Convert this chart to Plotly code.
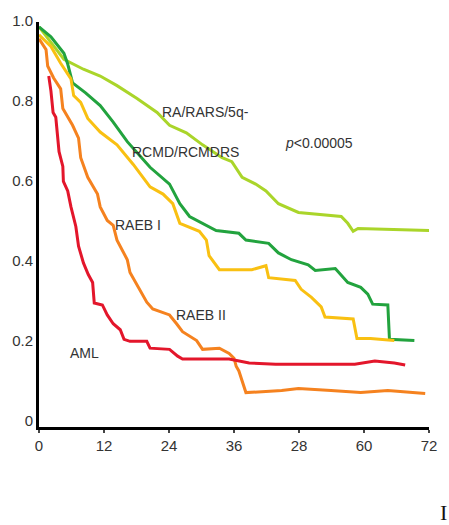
import plotly.graph_objects as go

# ---- data (months, survival proportion) ----
ra_x = [0, 2.2, 4.6, 8.2, 11.3, 14.4, 18.1, 21.8, 23.6, 24.1, 27.2, 30.2, 33.8, 35.6, 37.5, 40.0, 41.9, 44.2, 47.9, 55.8, 57.0, 58.0, 58.9, 72.2]
ra_y = [1.0, 0.96, 0.919, 0.894, 0.877, 0.853, 0.821, 0.786, 0.762, 0.754, 0.735, 0.705, 0.673, 0.663, 0.624, 0.607, 0.590, 0.558, 0.536, 0.526, 0.509, 0.489, 0.496, 0.491]

rcmd_x = [0, 2.2, 4.6, 5.3, 6.2, 8.6, 11.3, 13.7, 16.3, 20.5, 24.1, 26.0, 27.8, 30.2, 32.7, 36.9, 38.2, 42.4, 44.2, 46.6, 49.7, 51.0, 54.7, 57.0, 59.4, 60.7, 61.6, 64.4, 64.7, 69.3]
rcmd_y = [1.0, 0.975, 0.934, 0.907, 0.860, 0.835, 0.803, 0.762, 0.713, 0.649, 0.607, 0.558, 0.526, 0.509, 0.491, 0.484, 0.467, 0.459, 0.435, 0.418, 0.405, 0.391, 0.396, 0.361, 0.349, 0.332, 0.307, 0.305, 0.219, 0.216]

raeb1_x = [0, 2.2, 4.0, 5.9, 6.4, 7.7, 9.0, 11.3, 14.4, 17.4, 20.5, 22.9, 24.7, 26.0, 29.6, 30.9, 31.4, 33.3, 39.3, 41.9, 42.4, 47.3, 48.4, 50.3, 52.1, 52.8, 58.0, 58.7, 61.2, 65.6]
raeb1_y = [0.98, 0.951, 0.909, 0.870, 0.828, 0.811, 0.771, 0.737, 0.705, 0.656, 0.600, 0.582, 0.558, 0.509, 0.489, 0.467, 0.428, 0.393, 0.393, 0.403, 0.373, 0.366, 0.344, 0.324, 0.300, 0.275, 0.270, 0.221, 0.221, 0.216]

raeb2_x = [0, 1.3, 1.6, 2.7, 4.0, 4.4, 6.2, 7.3, 7.7, 9.0, 10.8, 11.3, 12.6, 13.7, 14.4, 16.3, 16.8, 18.1, 19.9, 21.0, 24.1, 25.4, 26.5, 29.1, 30.2, 33.3, 35.1, 36.0, 36.4, 36.9, 37.5, 38.2, 44.8, 47.9, 53.9, 59.4, 64.4, 71.3]
raeb2_y = [0.97, 0.943, 0.902, 0.872, 0.845, 0.796, 0.754, 0.722, 0.673, 0.624, 0.582, 0.550, 0.516, 0.504, 0.467, 0.418, 0.386, 0.354, 0.312, 0.295, 0.280, 0.258, 0.238, 0.216, 0.194, 0.197, 0.184, 0.172, 0.152, 0.140, 0.115, 0.086, 0.091, 0.096, 0.091, 0.086, 0.091, 0.084]

aml_x = [1.8, 2.2, 2.6, 3.1, 3.7, 4.4, 4.5, 5.3, 5.9, 6.2, 6.8, 7.3, 8.2, 9.1, 9.9, 10.2, 11.7, 12.6, 13.7, 15.0, 15.7, 16.8, 19.9, 20.5, 24.1, 25.6, 26.5, 31.4, 35.1, 38.8, 43.7, 51.0, 58.3, 62.0, 65.6, 67.6]
aml_y = [0.877, 0.840, 0.786, 0.774, 0.688, 0.651, 0.614, 0.590, 0.550, 0.533, 0.501, 0.452, 0.410, 0.381, 0.361, 0.310, 0.305, 0.280, 0.258, 0.243, 0.219, 0.214, 0.214, 0.197, 0.194, 0.177, 0.170, 0.170, 0.170, 0.160, 0.157, 0.157, 0.157, 0.165, 0.160, 0.155]

x_tickvals = [0, 12, 24, 36, 48, 60, 72]
x_ticktext = ["0", "12", "24", "36", "28", "60", "72"]
y_tickvals = [0, 0.2, 0.4, 0.6, 0.8, 1.0]
y_ticktext = ["0", "0.2", "0.4", "0.6", "0.8", "1.0"]

labels = ["RA/RARS/5q-", "RCMD/RCMDRS", "<i>p</i>&lt;0.00005", "RAEB I", "RAEB II", "AML"]
label_x = [22.3, 16.8, 45.1, 13.7, 25.0, 5.3]
label_y = [0.786, 0.688, 0.710, 0.504, 0.280, 0.184]

FONT = "Liberation Sans, Arial, sans-serif"

fig = go.Figure()
series = [
    (ra_x, ra_y, "#aad52a"),
    (rcmd_x, rcmd_y, "#22a33e"),
    (raeb1_x, raeb1_y, "#f9c012"),
    (raeb2_x, raeb2_y, "#f5821f"),
    (aml_x, aml_y, "#e3162b"),
]
for xs, ys, col in series:
    fig.add_trace(go.Scatter(x=xs, y=ys, mode="lines",
                             line=dict(color=col, width=3, shape="linear"),
                             showlegend=False, hoverinfo="skip"))

for t, x, y in zip(labels, label_x, label_y):
    fig.add_annotation(x=x, y=y, text=t, showarrow=False, xanchor="left", yanchor="middle",
                       font=dict(family=FONT, size=14, color="#333333"))

fig.add_annotation(xref="paper", yref="paper", x=1.05, y=-0.21, text="I", showarrow=False,
                   xanchor="right", yanchor="middle",
                   font=dict(family="Liberation Serif, serif", size=22, color="#111111"))

fig.update_layout(
    width=449, height=525,
    margin=dict(l=38, r=17, t=15, b=98),
    paper_bgcolor="white", plot_bgcolor="white",
    font=dict(family=FONT, size=15, color="#333333"),
)
fig.update_xaxes(range=[0, 72], tickvals=x_tickvals, ticktext=x_ticktext,
                 showline=True, linecolor="black", linewidth=3, showgrid=False, zeroline=False,
                 ticks="outside", ticklen=3, tickwidth=2, tickcolor="#444",
                 tickfont=dict(family=FONT, size=15, color="#333333"))
fig.update_yaxes(range=[0, 1.012], tickvals=y_tickvals, ticktext=y_ticktext,
                 showline=True, linecolor="black", linewidth=3, showgrid=False, zeroline=False,
                 ticks="", ticklabelshift=-6,
                 tickfont=dict(family=FONT, size=15, color="#333333"))

fig.write_html("out.html")
